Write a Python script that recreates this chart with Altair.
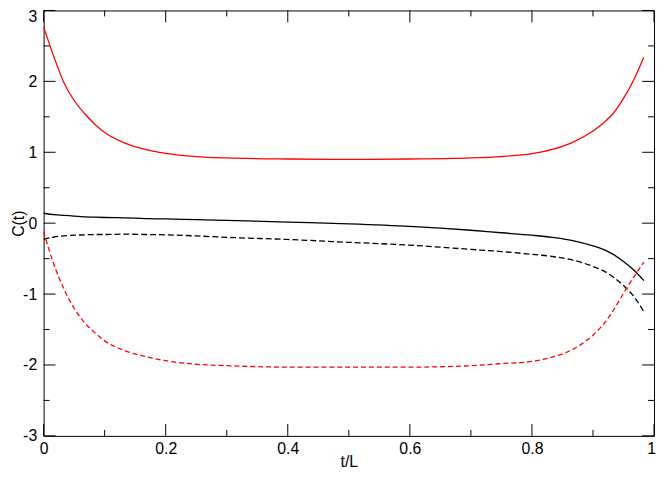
import altair as alt
import pandas as pd

# t/L sample positions
t = [0, 0.0167, 0.0333, 0.05, 0.0667, 0.0833, 0.1, 0.1333, 0.1667, 0.2, 0.25, 0.3,
     0.4, 0.5, 0.6, 0.7, 0.75, 0.8, 0.8333, 0.8667, 0.9, 0.9167, 0.9333, 0.95,
     0.9667, 0.9833]

red_solid = [2.77, 2.35, 1.98, 1.73, 1.55, 1.40, 1.28, 1.13, 1.04, 0.985, 0.94, 0.92,
             0.905, 0.90, 0.905, 0.92, 0.94, 0.98, 1.04, 1.14, 1.30, 1.41, 1.55, 1.76,
             2.02, 2.34]

black_solid = [0.14, 0.12, 0.11, 0.10, 0.09, 0.085, 0.08, 0.075, 0.065, 0.06, 0.05, 0.04,
               0.015, -0.01, -0.045, -0.10, -0.135, -0.17, -0.20, -0.245, -0.32, -0.37,
               -0.44, -0.54, -0.66, -0.81]

black_dashed = [-0.23, -0.195, -0.18, -0.17, -0.165, -0.16, -0.16, -0.155, -0.16, -0.165,
                -0.18, -0.20, -0.23, -0.27, -0.31, -0.37, -0.40, -0.44, -0.47, -0.52,
                -0.61, -0.67, -0.76, -0.88, -1.03, -1.25]

red_dashed = [-0.12, -0.58, -0.93, -1.20, -1.40, -1.54, -1.66, -1.80, -1.88, -1.94, -1.99,
              -2.01, -2.03, -2.03, -2.03, -2.01, -1.98, -1.95, -1.89, -1.78, -1.58, -1.43,
              -1.23, -0.99, -0.76, -0.55]

x_major = [0, 0.2, 0.4, 0.6, 0.8, 1]
x_minor = [0.1, 0.3, 0.5, 0.7, 0.9]
y_major = [-3, -2, -1, 0, 1, 2, 3]
y_minor = [-2.5, -1.5, -0.5, 0.5, 1.5, 2.5]

W, H = 617, 430
FONT = "Liberation Sans"

xscale = alt.Scale(domain=[0, 1], nice=False, zero=False)
yscale = alt.Scale(domain=[-3, 3], nice=False, zero=False)

df = pd.DataFrame({"t": t, "rs": red_solid, "bs": black_solid,
                   "bd": black_dashed, "rd": red_dashed})

xaxis = alt.Axis(values=x_major, labelExpr="'' + datum.value", title="t/L",
                 titleBaseline="alphabetic", titleY=31, labelPadding=5,
                 labelOffset={"condition": {"test": "datum.value == 1", "value": -3},
                              "value": 0})
yaxis = alt.Axis(values=y_major, labelExpr="'' + datum.value", title="C(t)",
                 titleX=-17, titleY=H / 2, labelPadding=7,
                 labelOffset={"condition": {"test": "datum.value == 3", "value": 6},
                              "value": 0})


def line(col, color, dash=None):
    kw = dict(color=color, strokeWidth=1.3, interpolate="monotone")
    if dash:
        kw["strokeDash"] = dash
    return alt.Chart(df).mark_line(**kw).encode(
        x=alt.X("t:Q", scale=xscale, axis=xaxis),
        y=alt.Y(f"{col}:Q", scale=yscale, axis=yaxis),
    )


def xticks(vals, length):
    d = pd.DataFrame({"v": vals})
    base = alt.Chart(d).mark_rule(color="black", strokeWidth=1)
    bottom = base.encode(x=alt.X("v:Q", scale=xscale, axis=xaxis),
                         y=alt.value(H), y2=alt.value(H - length))
    top = base.encode(x=alt.X("v:Q", scale=xscale, axis=xaxis),
                      y=alt.value(0), y2=alt.value(length))
    return bottom + top


def yticks(vals, length):
    d = pd.DataFrame({"v": vals})
    base = alt.Chart(d).mark_rule(color="black", strokeWidth=1)
    left = base.encode(y=alt.Y("v:Q", scale=yscale, axis=yaxis),
                       x=alt.value(0), x2=alt.value(length))
    right = base.encode(y=alt.Y("v:Q", scale=yscale, axis=yaxis),
                        x=alt.value(W), x2=alt.value(W - length))
    return left + right


chart = alt.layer(
    line("rs", "#ff0000"),
    line("bs", "#000000"),
    line("bd", "#000000", dash=[6, 3]),
    line("rd", "#ff0000", dash=[5, 3]),
    xticks(x_major, 12), xticks(x_minor, 6),
    yticks(y_major, 12), yticks(y_minor, 6),
).properties(
    width=W, height=H,
    autosize=alt.AutoSizeParams(type="none"),
    padding={"left": 36, "top": 0, "right": 2, "bottom": 32},
).configure_view(
    stroke="black", strokeWidth=1
).configure_axis(
    domain=False, ticks=False, grid=False,
    labelFont=FONT, labelFontSize=16, labelColor="black",
    titleFont=FONT, titleFontSize=16, titleColor="black", titleFontWeight="normal",
).configure_axisX(labelFlush=False).configure_axisY(labelFlush=False)

chart.save("out.html", embed_options={"renderer": "svg", "actions": False})
